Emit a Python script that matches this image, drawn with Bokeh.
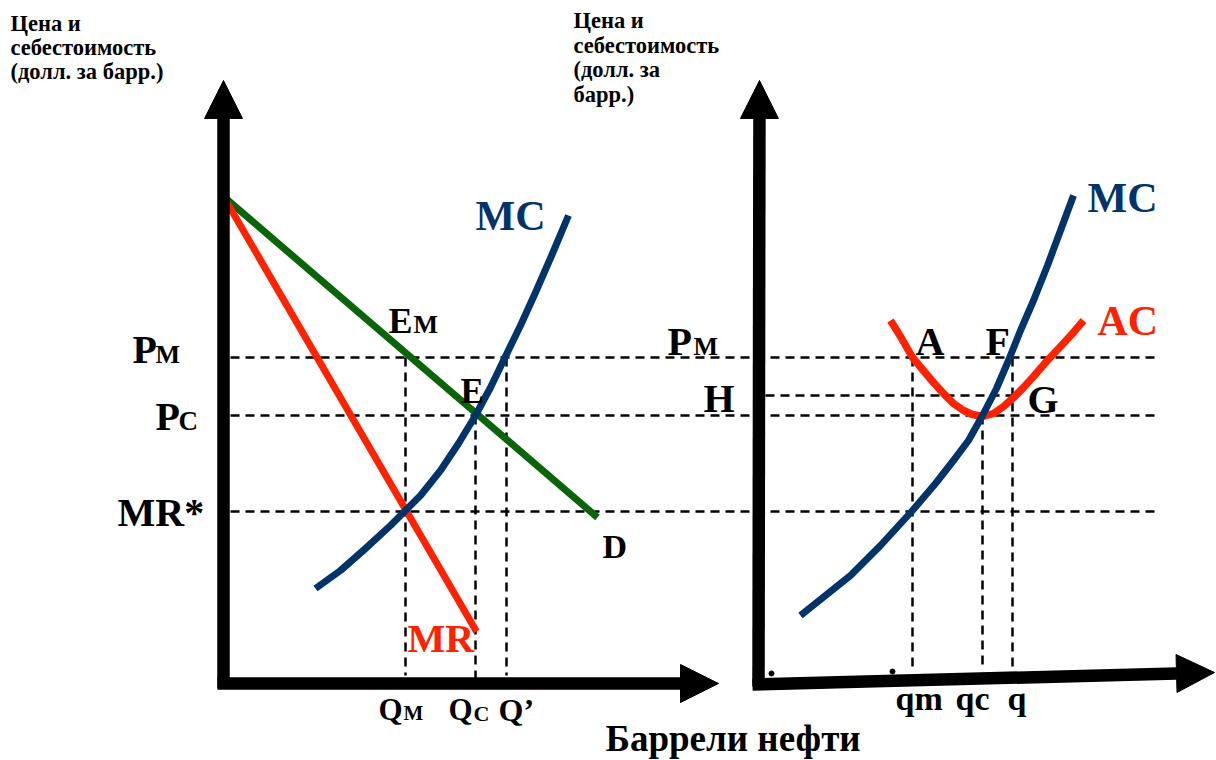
from bokeh.plotting import figure
from bokeh.models import Range1d, Arrow, NormalHead
from bokeh.core.properties import value
from bokeh.embed import file_html
from bokeh.resources import INLINE

# ---------------- data (panel units: quantity q, price p) ----------------
# price levels shared by both panels
P_M = 326
P_C = 268
MR_STAR = 172
H_LEVEL = 288
# left panel (industry) quantities
Q_M = 182
Q_C = 252
Q_PRIME = 283
# right panel (firm) quantities
q_m = 154
q_c = 224
q_q = 254

demand_q = [0, 374]
demand_p = [487, 166]
mr_q = [0, 253]
mr_p = [487, 52]
mc_left_q = [92, 117, 142, 167, 182, 197, 217, 235, 252, 267, 280, 297, 312, 329, 345]
mc_left_p = [95, 113, 135, 158, 173, 188, 213, 240, 268, 296, 323, 358, 391, 430, 468]
mc_right_q = [42, 67, 92, 122, 154, 177, 195, 210, 224, 238, 250, 262, 275, 289, 302, 315]
mc_right_p = [68, 88, 108, 138, 173, 200, 223, 243, 268, 295, 323, 353, 383, 418, 453, 488]
ac_q = [132, 142, 154, 164, 175, 185, 195, 205, 214, 224, 235, 245, 255, 265, 275, 288,
        302, 314, 325]
ac_p = [363, 347, 326, 314, 301, 290, 280, 273, 269, 267, 270, 277, 286, 296, 307, 322,
        337, 350, 363]

title_lines_left = ["Цена и", "себестоимость", "(долл. за барр.)"]
title_lines_right = ["Цена и", "себестоимость", "(долл. за", "барр.)"]
x_title = "Баррели нефти"

# ---------------- styling ----------------
NAVY = "#02346a"
RED = "#ff2200"
GREEN = "#0a640a"
FONT = value("'Liberation Serif', 'Times New Roman', 'DejaVu Serif', serif")

W, H = 1216, 760
p = figure(width=W, height=H, x_range=Range1d(-223, W - 223), y_range=Range1d(683 - H, 683),
           output_backend="svg", toolbar_location=None, x_axis_location=None,
           y_axis_location=None, min_border=0, background_fill_color="white",
           border_fill_color="white")
p.extra_x_ranges = {"right": Range1d(-758, W - 758)}
p.outline_line_color = None
p.grid.visible = False

DASH = dict(line_dash="9 6", line_width=2.5, line_color="black")

# horizontal guides spanning both panels
p.multi_line(xs=[[7, 932]] * 3, ys=[[P_M, P_M], [P_C, P_C], [MR_STAR, MR_STAR]], **DASH)
# H guide on right panel
p.multi_line(xs=[[7, q_q]], ys=[[H_LEVEL, H_LEVEL]], x_range_name="right", **DASH)
# left verticals
p.multi_line(xs=[[Q_M, Q_M], [Q_C, Q_C], [Q_PRIME, Q_PRIME]],
             ys=[[P_M, 8], [P_C, 4], [P_M, 8]], **DASH)
# right verticals
p.multi_line(xs=[[q_m, q_m], [q_c, q_c], [q_q, q_q]],
             ys=[[P_M, 15], [P_C, 15], [P_M, 15]], x_range_name="right", **DASH)

# curves
p.line(demand_q, demand_p, line_width=7, line_color=GREEN)
p.line(mr_q, mr_p, line_width=7, line_color=RED)
p.line(mc_left_q, mc_left_p, line_width=7, line_color=NAVY, line_join="round")
p.line(ac_q, ac_p, line_width=7.5, line_color=RED, line_join="round", x_range_name="right")
p.line(mc_right_q, mc_right_p, line_width=7, line_color=NAVY, line_join="round",
       x_range_name="right")

# axes with arrows
def axis_arrow(x0, y0, x1, y1, rng="default"):
    p.add_layout(Arrow(end=NormalHead(size=38, fill_color="black", line_color="black",
                                      line_width=1),
                       x_start=x0, y_start=y0, x_end=x1, y_end=y1,
                       line_width=12.5, line_color="black", x_range_name=rng))

axis_arrow(0, -5, 0, 603)
axis_arrow(-6, 0, 495, 0)
axis_arrow(0, -3, 1, 603, "right")
axis_arrow(-6, -1, 456, 11, "right")
p.scatter([13, 134], [10, 12], size=5, color="black", x_range_name="right")

# labels (y is the intended baseline; compensate the renderer's baseline offset)
BASE_SHIFT = 0.34
def label(txt, x, y, size, color="black", rng="default"):
    p.text(x=[x], y=[y + BASE_SHIFT * size], text=[txt], text_font=FONT,
           text_font_style="bold", text_font_size=f"{size}px", text_color=color,
           text_align="left", text_baseline="alphabetic", x_range_name=rng)

# left panel
label("MC", 252, 453, 42, NAVY)
label("E", 165, 350, 36)
label("M", 190, 350, 26)
label("E", 237, 280, 35)
label("P", -91, 320, 40)
label("M", -68, 320, 26)
label("P", -68, 253, 40)
label("C", -45, 253, 27)
label("MR*", -106, 157, 40)
label("D", 379, 125, 34)
label("MR", 184, 31, 40, RED)
label("Q", 155, -37, 31)
label("M", 180, -37, 21)
label("Q", 225, -37, 31)
label("C", 250, -37, 22)
label("Q\u2019", 275, -37, 32)
label(x_title, 382, -68, 37)
for i, t in enumerate(title_lines_left):
    label(t, -213, 652 - 24 * i, 22.5)

# right panel
label("MC", 329, 471, 42, NAVY, "right")
label("AC", 339, 348, 42, RED, "right")
label("P", -91, 328, 40, rng="right")
label("M", -65, 328, 26, rng="right")
label("H", -55, 271, 40, rng="right")
label("A", 157, 328, 40, rng="right")
label("F", 227, 328, 40, rng="right")
label("G", 269, 270, 40, rng="right")
label("qm", 137, -27, 34, rng="right")
label("qc", 197, -27, 34, rng="right")
label("q", 249, -27, 34, rng="right")
for i, t in enumerate(title_lines_right):
    label(t, -185, 655 - 24.5 * i, 22.5, rng="right")

open("out.html", "w").write(file_html(p, INLINE))
